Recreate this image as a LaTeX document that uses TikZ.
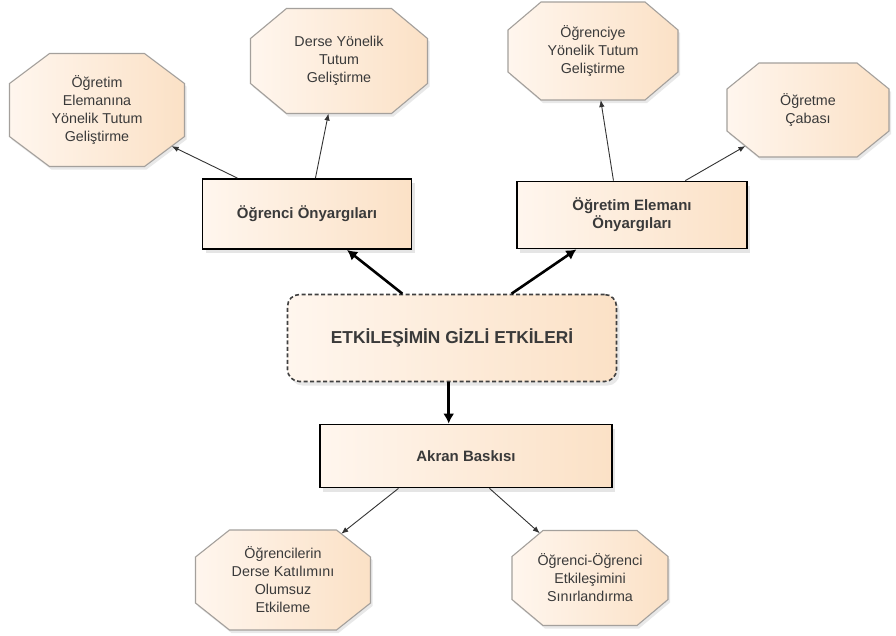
\documentclass[tikz,border=0pt]{standalone}
\usepackage{fontspec}
\setmainfont{Liberation Sans}
\usetikzlibrary{arrows.meta,calc,shadows,intersections,backgrounds}
\definecolor{octborder}{HTML}{A4A09C}
\definecolor{peachL}{HTML}{FFF6EE}
\definecolor{peachR}{HTML}{FBE1C6}
\definecolor{txt}{HTML}{3A3A3A}
% #1 node name, #2 half width, #3 half height, #4 x chamfer, #5 y chamfer
\newcommand\octbg[5]{%
  \path[octfill, name path global=p-#1]
    ($(#1)+(-#2+#4,-#3)$) -- ($(#1)+(#2-#4,-#3)$) -- ($(#1)+(#2,-#3+#5)$) --
    ($(#1)+(#2,#3-#5)$) -- ($(#1)+(#2-#4,#3)$) -- ($(#1)+(-#2+#4,#3)$) --
    ($(#1)+(-#2,#3-#5)$) -- ($(#1)+(-#2,-#3+#5)$) -- cycle;}
\begin{document}
\begin{tikzpicture}[x=1pt,y=-1pt,
  octfill/.style={draw=octborder, line width=1.1pt,
    left color=peachL, right color=peachR,
    drop shadow={opacity=0.18, shadow xshift=2pt, shadow yshift=-3pt}},
  octtext/.style={align=center, text=txt, inner sep=0pt,
    font=\fontsize{14.3}{18}\selectfont},
  rectbox/.style={rectangle, draw=black, line width=1.8pt,
    left color=peachL, right color=peachR, align=center, text=txt,
    font=\bfseries\fontsize{15}{18}\selectfont, inner sep=0pt,
    drop shadow={opacity=0.2, shadow xshift=3pt, shadow yshift=-4pt}},
  dashbox/.style={rectangle, rounded corners=12pt, draw=black!75, dashed,
    dash pattern=on 4pt off 2.5pt, line width=1.6pt,
    left color=peachL, right color=peachR, align=center, text=txt,
    font=\bfseries\fontsize{17.3}{20}\selectfont, inner sep=0pt,
    drop shadow={opacity=0.18, shadow xshift=3pt, shadow yshift=-4pt}},
  thin/.style={draw=black!80, line width=0.9pt, -{Latex[length=7pt,width=5.5pt]}},
  thick/.style={draw=black, line width=2.6pt, -{Latex[length=10pt,width=11pt]}}
]
\useasboundingbox (0,0) rectangle (896,635);

% octagon texts
\node[octtext] (o1) at (97,110) {Öğretim\\Elemanına\\Yönelik Tutum\\Geliştirme};
\node[octtext] (o2) at (339,61) {Derse Yönelik\\Tutum\\Geliştirme};
\node[octtext] (o3) at (593,51) {Öğrenciye\\Yönelik Tutum\\Geliştirme};
\node[octtext] (o4) at (808,110) {Öğretme\\Çabası};
\node[octtext] (o5) at (283,580) {Öğrencilerin\\Derse Katılımını\\Olumsuz\\Etkileme};
\node[octtext] (o6) at (590,578) {Öğrenci-Öğrenci\\Etkileşimini\\Sınırlandırma};

\begin{pgfonlayer}{background}
  \fill[white] (0,0) rectangle (896,635);
  \octbg{o1}{87.5}{56.5}{40}{30}
  \octbg{o2}{88.5}{52.5}{36}{30}
  \octbg{o3}{85}{49}{33}{28}
  \octbg{o4}{81}{47}{32}{26}
  \octbg{o5}{87.5}{50}{34}{27}
  \octbg{o6}{78}{47.5}{31}{26}
\end{pgfonlayer}

% rectangles
\node[rectbox, minimum width=209pt, minimum height=70pt]
  (r1) at (307,214) {Öğrenci Önyargıları};
\node[rectbox, minimum width=230pt, minimum height=67pt]
  (r2) at (632,215) {Öğretim Elemanı\\Önyargıları};
\node[dashbox, minimum width=329pt, minimum height=87pt]
  (d) at (452,338) {ETKİLEŞİMİN GİZLİ ETKİLERİ};
\node[rectbox, minimum width=292pt, minimum height=63pt]
  (ak) at (466,456) {Akran Baskısı};

% start points of thin arrows
\coordinate (s1) at ($(r1.north west)!0.17!(r1.north east)$);
\coordinate (s2) at ($(r1.north west)!0.54!(r1.north east)$);
\coordinate (s3) at ($(r2.north west)!0.42!(r2.north east)$);
\coordinate (s4) at ($(r2.north west)!0.73!(r2.north east)$);
\coordinate (s5) at ($(ak.south west)!0.27!(ak.south east)$);
\coordinate (s6) at ($(ak.south west)!0.58!(ak.south east)$);
\path[name path=q1] (s1) -- (o1);
\path[name path=q2] (s2) -- (o2);
\path[name path=q3] (s3) -- (o3);
\path[name path=q4] (s4) -- (o4);
\path[name path=q5] (s5) -- (o5);
\path[name path=q6] (s6) -- (o6);
\path[name intersections={of=q1 and p-o1, by=e1}];
\path[name intersections={of=q2 and p-o2, by=e2}];
\path[name intersections={of=q3 and p-o3, by=e3}];
\path[name intersections={of=q4 and p-o4, by=e4}];
\path[name intersections={of=q5 and p-o5, by=e5}];
\path[name intersections={of=q6 and p-o6, by=e6}];
\draw[thin] (s1) -- (e1);
\draw[thin] (s2) -- (e2);
\draw[thin] (s3) -- (e3);
\draw[thin] (s4) -- (e4);
\draw[thin] (s5) -- (e5);
\draw[thin] (s6) -- (e6);

% thick arrows
\draw[thick] ($(d.north west)!0.35!(d.north east)$) -- ($(r1.south west)!0.69!(r1.south east)$);
\draw[thick] ($(d.north west)!0.68!(d.north east)$) -- ($(r2.south west)!0.26!(r2.south east)$);
\draw[thick] ($(d.south west)!0.49!(d.south east)$) coordinate (ds) -- (ds |- ak.north);
\end{tikzpicture}
\end{document}
